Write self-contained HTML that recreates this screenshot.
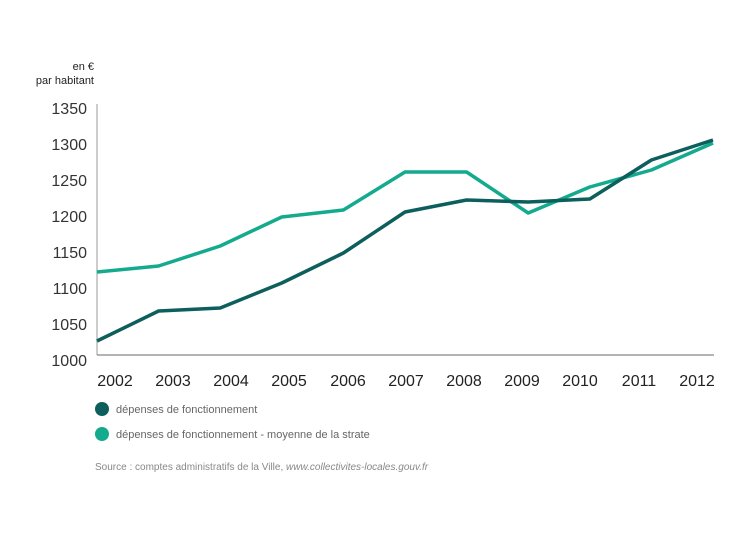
<!DOCTYPE html>
<html><head><meta charset="utf-8"><style>
body{margin:0;background:#fff;}
svg{display:block;font-family:"Liberation Sans",sans-serif;}
</style></head><body>
<svg width="750" height="536" viewBox="0 0 750 536">
<text x="94" y="70" font-size="11" fill="#222" text-anchor="end">en €</text>
<text x="94" y="84" font-size="11" fill="#222" text-anchor="end">par habitant</text>
<g font-size="16" fill="#333" text-anchor="end">
<text x="87" y="114">1350</text><text x="87" y="150">1300</text><text x="87" y="186">1250</text><text x="87" y="222">1200</text><text x="87" y="258">1150</text><text x="87" y="294">1100</text><text x="87" y="330">1050</text><text x="87" y="366">1000</text>
</g>
<line x1="97" y1="104" x2="97" y2="355" stroke="#bbb" stroke-width="1.5"/>
<line x1="97" y1="355" x2="714" y2="355" stroke="#888" stroke-width="1.2"/>
<g font-size="16" fill="#222" text-anchor="middle">
<text x="115" y="386">2002</text><text x="173" y="386">2003</text><text x="231" y="386">2004</text><text x="289" y="386">2005</text><text x="348" y="386">2006</text><text x="406" y="386">2007</text><text x="464" y="386">2008</text><text x="522" y="386">2009</text><text x="580" y="386">2010</text><text x="639" y="386">2011</text><text x="697" y="386">2012</text>
</g>
<polyline fill="none" stroke="#14aa8e" stroke-width="3.5" stroke-linejoin="round" points="97,272 158.6,266 220.2,246 281.8,217 343.4,210 405,172 466.6,172 528.2,213 589.8,187 651.4,170 713,143"/>
<polyline fill="none" stroke="#0d5f5d" stroke-width="3.5" stroke-linejoin="round" points="97,341 158.6,311 220.2,308 281.8,283 343.4,253 405,212 466.6,200 528.2,202 589.8,199 651.4,160 713,140"/>
<circle cx="102" cy="409" r="7" fill="#0d5f5d"/>
<circle cx="102" cy="434" r="7" fill="#14aa8e"/>
<text x="116" y="413" font-size="11" fill="#666">dépenses de fonctionnement</text>
<text x="116" y="438" font-size="11" fill="#666">dépenses de fonctionnement - moyenne de la strate</text>
<text x="95" y="470" font-size="10" fill="#888">Source : comptes administratifs de la Ville, <tspan font-style="italic">www.collectivites-locales.gouv.fr</tspan></text>
</svg>
</body></html>
